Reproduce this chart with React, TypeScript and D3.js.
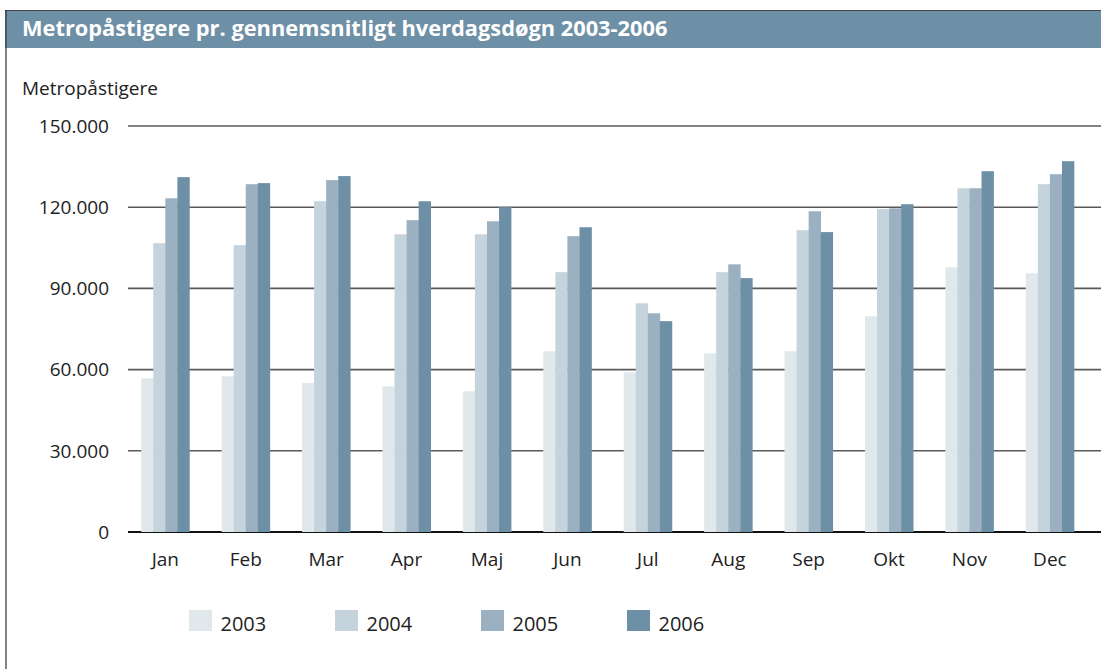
import * as d3 from 'd3'

// ── data ─────────────────────────────────────────────────────────────────────
const MONTHS = ['Jan', 'Feb', 'Mar', 'Apr', 'Maj', 'Jun', 'Jul', 'Aug', 'Sep', 'Okt', 'Nov', 'Dec']
const YEARS  = ['2003', '2004', '2005', '2006']

const V2003 = [56800, 57500, 55000, 53800, 52000, 66800, 59000, 66000, 66800, 79700, 97800, 95600]
const V2004 = [106700, 106000, 122200, 110000, 110000, 96000, 84500, 96000, 111500, 119300, 127000, 128500]
const V2005 = [123300, 128500, 130000, 115200, 114800, 109300, 80800, 98900, 118500, 119600, 127000, 132200]
const V2006 = [131100, 128900, 131500, 122200, 120000, 112600, 77900, 93800, 110800, 121100, 133300, 137000]
const SERIES = [V2003, V2004, V2005, V2006]

const Y_TICKS = [0, 30000, 60000, 90000, 120000, 150000]

const TITLE   = 'Metropåstigere pr. gennemsnitligt hverdagsdøgn 2003-2006'
const Y_TITLE = 'Metropåstigere'

// ── constants ────────────────────────────────────────────────────────────────
const W = 1101
const H = 669
const FONT   = '"Open Sans", "Noto Sans", sans-serif'
const COLORS = ['#e1e8ec', '#c5d4dc', '#9bb1c1', '#6d90a7']
const C_BAR  = '#6e90a6'
const C_TXT  = '#222'

const fmt = (v: number) => v === 0 ? '0' : d3.format(',')(v).replace(/,/g, '.')

export default function App() {
  const x0 = d3.scaleBand<string>()
    .domain(MONTHS)
    .range([128, 1093])
    .paddingInner(0.4)
    .paddingOuter(0.2)
    .align(0.41)

  const x1 = d3.scaleBand<string>()
    .domain(YEARS)
    .range([0, x0.bandwidth()])

  const y = d3.scaleLinear().domain([0, 150000]).range([532, 126])

  return (
    <svg width={W} height={H} viewBox={`0 0 ${W} ${H}`}
      style={{ position: 'absolute', left: 0, top: 0, display: 'block', background: '#fff' }}
      fontFamily={FONT}>
      {/* title bar */}
      <rect x={5} y={10} width={W - 5} height={38} fill={C_BAR} />
      <line x1={5} x2={W} y1={10.5} y2={10.5} stroke="#444" strokeWidth={1} />
      <line x1={6} x2={6} y1={10} y2={H} stroke="#333" strokeWidth={1.2} />
      <text x={22} y={36} fill="#fff" fontSize={21.8} fontWeight={700}>{TITLE}</text>

      <text x={22} y={95} fill={C_TXT} fontSize={19}>{Y_TITLE}</text>

      {/* grid */}
      {Y_TICKS.map(t => (
        <g key={t}>
          <line x1={128} x2={W} y1={y(t)} y2={y(t)}
            stroke={t === 0 ? '#111' : '#5a5a5a'} strokeWidth={t === 0 ? 1.8 : 1.6} />
          <text x={109} y={y(t)} dy="0.36em" textAnchor="end" fill={C_TXT} fontSize={19}>{fmt(t)}</text>
        </g>
      ))}

      {/* bars */}
      {MONTHS.map((m, i) => (
        <g key={m} transform={`translate(${x0(m)},0)`}>
          {YEARS.map((yr, j) => (
            <rect key={yr}
              x={x1(yr)} width={x1.bandwidth() + 0.3}
              y={y(SERIES[j][i])} height={y(0) - y(SERIES[j][i])}
              fill={COLORS[j]} />
          ))}
        </g>
      ))}

      {/* month labels */}
      {MONTHS.map(m => (
        <text key={m} x={(x0(m) ?? 0) + x0.bandwidth() / 2} y={566}
          textAnchor="middle" fill={C_TXT} fontSize={19}>{m}</text>
      ))}

      {/* legend */}
      {YEARS.map((yr, j) => (
        <g key={yr} transform={`translate(${189 + j * 146},610)`}>
          <rect width={23} height={21} fill={COLORS[j]} />
          <text x={31.5} y={21} fill={C_TXT} fontSize={20}>{yr}</text>
        </g>
      ))}
    </svg>
  )
}
